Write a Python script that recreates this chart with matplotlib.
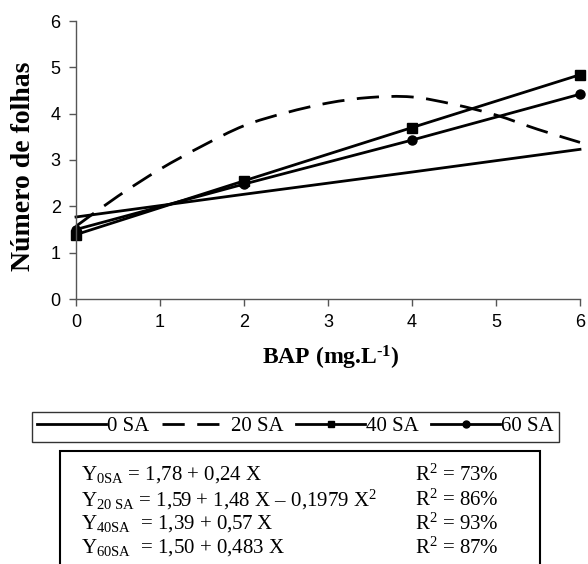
import numpy as np
import matplotlib
matplotlib.use("Agg")
import matplotlib.pyplot as plt
from matplotlib.path import Path
from matplotlib.patches import PathPatch, Rectangle
from matplotlib.lines import Line2D

plt.rcParams['mathtext.fontset'] = 'custom'
plt.rcParams['mathtext.rm'] = 'Liberation Serif'
plt.rcParams['mathtext.it'] = 'Liberation Serif:italic'
plt.rcParams['mathtext.bf'] = 'Liberation Serif:bold'

# ---- data ----
bap = [0, 2, 4, 6]
sa0 = [1.77, 2.26, 2.74, 3.23]
sa40 = [1.39, 2.55, 3.70, 4.84]
sa60 = [1.50, 2.48, 3.43, 4.42]
# 20 SA curve read along its path
bap20 = [0, 0.5, 1, 1.5, 2, 2.5, 3, 3.5, 4, 4.5, 5, 5.5, 6]
sa20 = [1.57, 2.22, 2.80, 3.30, 3.74, 4.02, 4.23, 4.35, 4.36, 4.20, 3.97, 3.66, 3.38]
series_labels = ['0 SA', '20 SA', '40 SA', '60 SA']
xticks = [0, 1, 2, 3, 4, 5, 6]
yticks = [0, 1, 2, 3, 4, 5, 6]
equations = [
    ('Y$_{\\mathregular{0SA}}$ = 1,78 + 0,24 X', 'R$^{\\mathregular{2}}$ = 73%'),
    ('Y$_{\\mathregular{20\\ SA}}$ = 1,59 + 1,48 X – 0,1979 X$^{\\mathregular{2}}$', 'R$^{\\mathregular{2}}$ = 86%'),
    ('Y$_{\\mathregular{40SA}}$  = 1,39 + 0,57 X', 'R$^{\\mathregular{2}}$ = 93%'),
    ('Y$_{\\mathregular{60SA}}$  = 1,50 + 0,483 X', 'R$^{\\mathregular{2}}$ = 87%'),
]

W, H = 588, 564
fig = plt.figure(figsize=(W / 100, H / 100), dpi=100)
ax = fig.add_axes([76 / W, 1 - 299 / H, (580 - 76) / W, (299 - 21) / H])

lw = 2.0
dash = (0, (8, 4.5))
ax.plot(bap, sa0, color='black', lw=lw, clip_on=False)

def smooth_path(xs, ys):
    pts = np.column_stack([xs, ys]).astype(float)
    n = len(pts)
    verts = [pts[0]]
    codes = [Path.MOVETO]
    for i in range(n - 1):
        p_prev = pts[i - 1] if i > 0 else pts[i]
        p_next2 = pts[i + 2] if i + 2 < n else pts[i + 1]
        c1 = pts[i] + (pts[i + 1] - p_prev) / 6.0
        c2 = pts[i + 1] - (p_next2 - pts[i]) / 6.0
        verts += [c1, c2, pts[i + 1]]
        codes += [Path.CURVE4] * 3
    return Path(verts, codes)

patch = PathPatch(smooth_path(bap20, sa20), facecolor='none', edgecolor='black',
                  lw=lw, linestyle=dash, clip_on=False, capstyle='butt')
ax.add_patch(patch)

ax.plot(bap, sa40, color='black', lw=lw, marker='s', markersize=6.5, clip_on=False)
ax.plot(bap, sa60, color='black', lw=lw, marker='o', markersize=6.5, clip_on=False)

ax.set_xlim(0, 6)
ax.set_ylim(0, 6)
ax.set_xticks(xticks)
ax.set_yticks(yticks)
for s in ['top', 'right']:
    ax.spines[s].set_visible(False)
for s in ['left', 'bottom']:
    ax.spines[s].set_color('#555555')
    ax.spines[s].set_linewidth(1.0)
ax.tick_params(direction='out', length=5, width=1.0, color='#555555',
               labelsize=13, pad=6)
for lab in ax.get_xticklabels() + ax.get_yticklabels():
    lab.set_fontfamily('Liberation Sans')

fig.text(331 / W, 1 - 358 / H, 'BAP (mg.L$^{\\mathbf{\u20101}}$)', ha='center', va='center',
         fontsize=17, fontweight='bold', family='Liberation Serif')
fig.text(24 / W, 1 - 166 / H, 'Número de folhas', rotation=90, ha='center', va='center',
         fontsize=20, fontweight='bold', family='Liberation Serif')

# legend
handles = [
    Line2D([], [], color='black', lw=lw),
    Line2D([], [], color='black', lw=lw, linestyle=dash),
    Line2D([], [], color='black', lw=lw, marker='s', markersize=5),
    Line2D([], [], color='black', lw=lw, marker='o', markersize=5),
]
leg = fig.legend(handles, series_labels, ncol=4, loc='center',
                 bbox_to_anchor=(32 / W, 1 - 445 / H, (559 - 32) / W, 37 / H),
                 mode='expand', frameon=True, fancybox=False, edgecolor='black',
                 prop={'family': 'Liberation Serif', 'size': 15},
                 handlelength=3.3, handletextpad=0.05, columnspacing=0.4,
                 borderaxespad=0, borderpad=0.25)
leg.get_frame().set_linewidth(1.0)

# equation box
fig.add_artist(Rectangle((60 / W, -0.05), (540 - 60) / W, 0.05 + 1 - 451 / H,
                         transform=fig.transFigure, facecolor='white',
                         edgecolor='black', lw=1.5, clip_on=False))
ys = [475, 500, 524, 548]
for (eq, r2), yy in zip(equations, ys):
    fig.text(81 / W, 1 - yy / H, eq, ha='left', va='center', fontsize=15,
             family='Liberation Serif')
    fig.text(415 / W, 1 - yy / H, r2, ha='left', va='center', fontsize=15,
             family='Liberation Serif')

fig.savefig('out.png', dpi=100)
